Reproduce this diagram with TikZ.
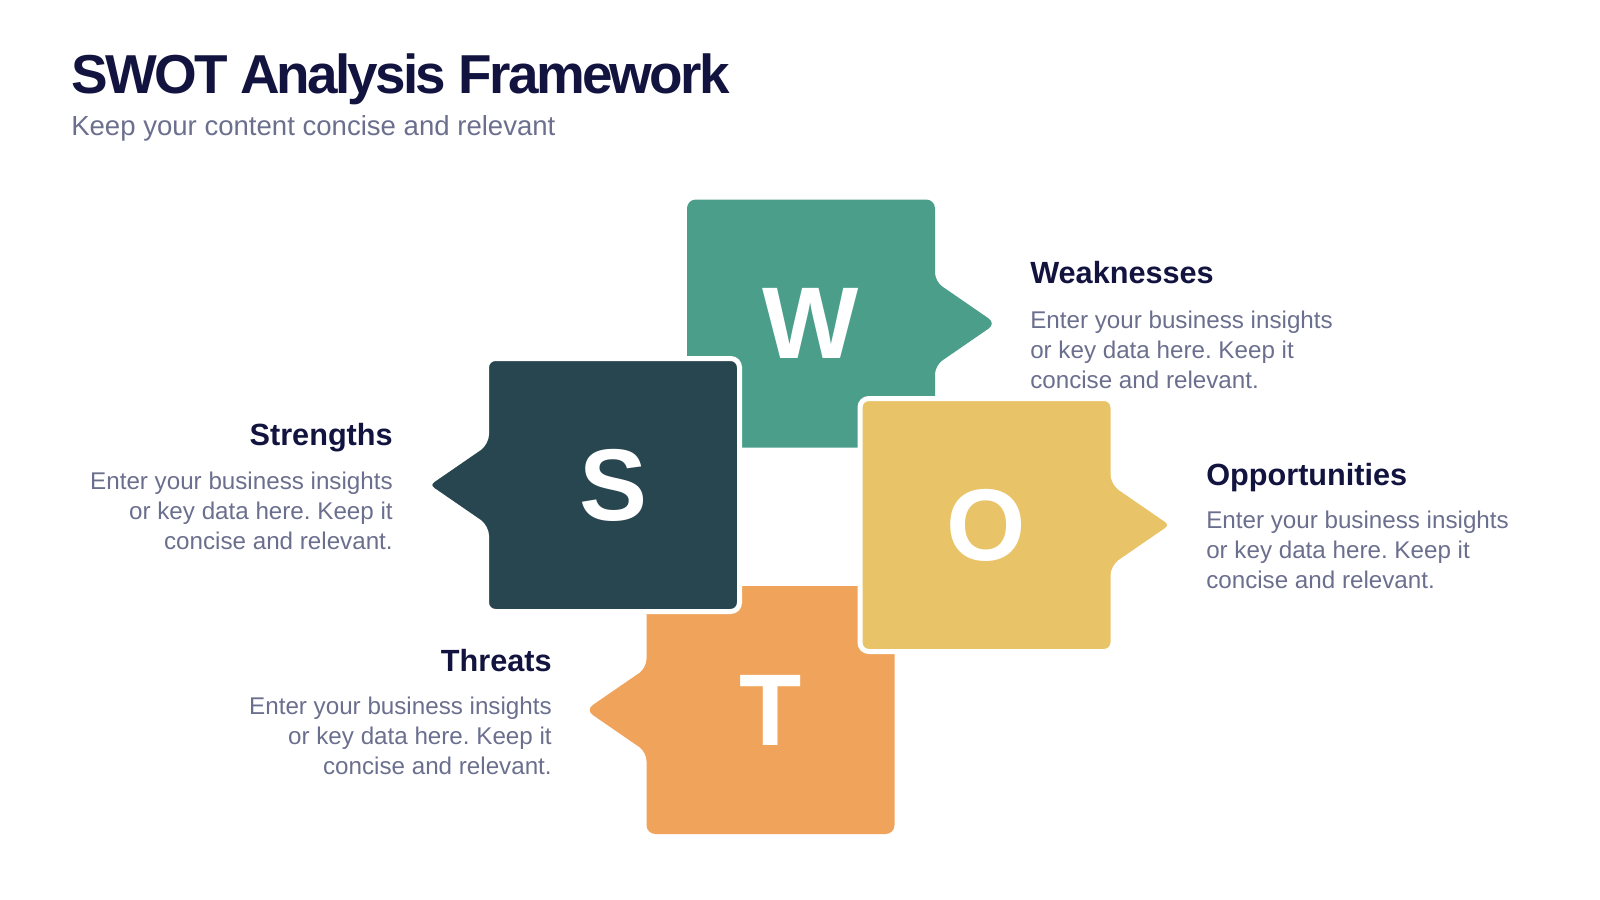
\documentclass[tikz,border=0pt]{standalone}
\usepackage{fontspec}
\setmainfont{Liberation Sans}
\frenchspacing
\usetikzlibrary{positioning,calc}

\definecolor{swTeal}{RGB}{74,158,138}
\definecolor{swDark}{RGB}{40,70,79}
\definecolor{swYellow}{RGB}{233,195,103}
\definecolor{swOrange}{RGB}{240,163,90}
\definecolor{swNavy}{RGB}{18,20,63}
\definecolor{swSlate}{RGB}{107,111,142}

% box with a pointer, centred on the origin, half size #1
\newcommand{\tabpath}[1]{(-#1,-#1) -- (#1,-#1) -- (#1,-42) -- ({#1+61},0) -- (#1,42) -- (#1,#1) -- (-#1,#1) -- cycle}

\tikzset{
  tab/.style={rounded corners=0.22cm},
  cutout/.style={draw=white, line width=0.125cm},
  letter/.style={text=white, inner sep=0, font=\fontsize{72.5}{73}\selectfont\bfseries},
  head/.style={text=swNavy, inner sep=0, font=\fontsize{21.8}{24}\selectfont\bfseries},
  body/.style={text=swSlate, inner sep=0, font=\fontsize{17.2}{21.3}\selectfont}
}

\begin{document}
\begin{tikzpicture}[x=0.025cm, y=-0.025cm]
        \useasboundingbox (0,0) rectangle (1600,900);

        % Title
        \node (title) [anchor=base west, inner sep=0, text=swNavy, font=\fontsize{39}{44}\selectfont\bfseries\addfontfeature{LetterSpace=-5}] at (71,94) {SWOT Analysis Framework};
        \node (subtitle) [anchor=base west, inner sep=0, text=swSlate, font=\fontsize{19.6}{24}\selectfont] at (71,136) {Keep your content concise and relevant};

        % Centres of the four boxes
        \coordinate (w) at (811,323.5);
        \coordinate (s) at (613,485);
        \coordinate (o) at (986.5,525);
        \coordinate (t) at (770.5,710);

        % Boxes (S and O sit on top, with a white edge)
        \fill[swTeal, tab, shift={(w)}] \tabpath{124};
        \fill[swOrange, tab, shift={(t)}, xscale=-1] \tabpath{124};
        \filldraw[swDark, cutout, tab, shift={(s)}, xscale=-1] \tabpath{126.5};
        \filldraw[swYellow, cutout, tab, shift={(o)}] \tabpath{126.5};

        % Letters
        \node (wl) [letter] at (w) {W};
        \node (sl) [letter] at (s) {S};
        \node (ol) [letter] at (o) {O};
        \node (tl) [letter] at (t) {T};

        % Texts
        \node (whead) [head, anchor=base west] at (1030,283) {Weaknesses};
        \node (wtext) [body, anchor=base west, align=left] at (1030,388) {Enter your business insights\\or key data here. Keep it\\concise and relevant.};
        \node (shead) [head, anchor=base east] at (393,445) {Strengths};
        \node (stext) [body, anchor=base east, align=right] at (393,549) {Enter your business insights\\or key data here. Keep it\\concise and relevant.};
        \node (ohead) [head, anchor=base west] at (1206,485) {Opportunities};
        \node (otext) [body, anchor=base west, align=left] at (1206,588) {Enter your business insights\\or key data here. Keep it\\concise and relevant.};
        \node (thead) [head, anchor=base east] at (552,671) {Threats};
        \node (ttext) [body, anchor=base east, align=right] at (552,774) {Enter your business insights\\or key data here. Keep it\\concise and relevant.};
\end{tikzpicture}
\end{document}
